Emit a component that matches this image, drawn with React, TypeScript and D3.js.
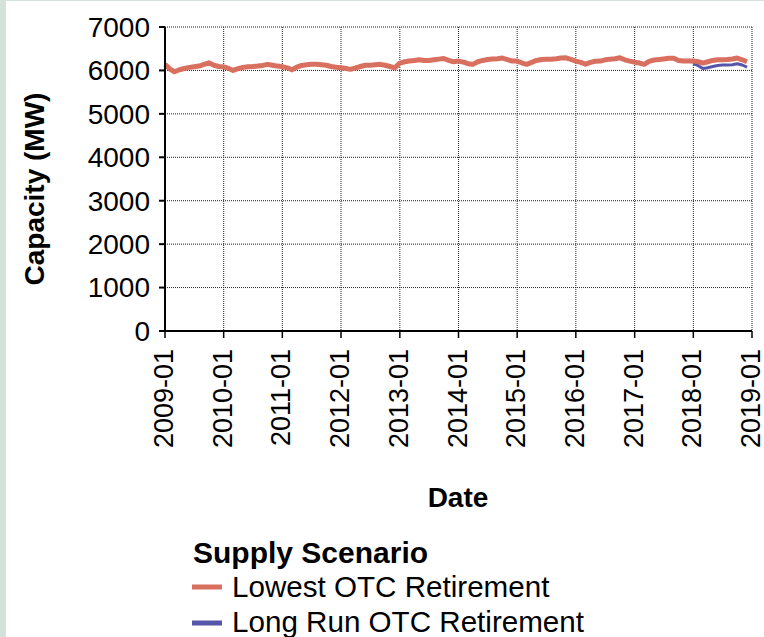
import React from "react";
import * as d3 from "d3";

const W = 764;
const H = 637;

const yTickValues = [0, 1000, 2000, 3000, 4000, 5000, 6000, 7000];
const xTickLabels = [
  "2009-01", "2010-01", "2011-01", "2012-01", "2013-01", "2014-01",
  "2015-01", "2016-01", "2017-01", "2018-01", "2019-01",
];

// Monthly capacity (MW), 2009-01 .. 2018-12
const lowestOTC = [
  6140, 6030, 5970, 6015, 6045, 6070, 6085, 6100, 6140, 6175, 6120, 6090,
  6085, 6045, 6000, 6040, 6070, 6085, 6090, 6100, 6115, 6140, 6120, 6100,
  6085, 6060, 6015, 6075, 6115, 6130, 6140, 6140, 6130, 6120, 6090, 6075,
  6060, 6045, 6025, 6060, 6090, 6120, 6120, 6130, 6140, 6120, 6090, 6060,
  6170, 6200, 6215, 6230, 6245, 6230, 6230, 6245, 6260, 6275, 6230, 6200,
  6215, 6190, 6155, 6140, 6200, 6230, 6250, 6265, 6270, 6285, 6250, 6215,
  6215, 6170, 6140, 6185, 6230, 6250, 6260, 6260, 6270, 6285, 6290, 6255,
  6215, 6185, 6145, 6185, 6210, 6215, 6245, 6260, 6270, 6290, 6245, 6215,
  6190, 6170, 6140, 6210, 6240, 6250, 6265, 6280, 6280, 6230, 6215, 6220,
  6215, 6200, 6170, 6200, 6230, 6245, 6245, 6250, 6265, 6285, 6245, 6200,
];
// Monthly capacity (MW), 2018-01 .. 2018-12
const longRunOTC = [
  6155, 6110, 6045, 6060, 6090, 6115, 6125, 6125, 6130, 6155, 6125, 6075,
];

const seriesNames = ["Lowest OTC Retirement", "Long Run OTC Retirement"];
const seriesColors = ["#d86f5f", "#5555aa"];

const FONT = "'Liberation Sans', Arial, Helvetica, sans-serif";

export default function App() {
  const left = 165, right = 752, top = 27, bottom = 331;

  const parse = d3.timeParse("%Y-%m");
  const xTickDates = xTickLabels.map((s) => parse(s) as Date);
  const x = d3
    .scaleTime()
    .domain([xTickDates[0], xTickDates[xTickDates.length - 1]])
    .range([left, right]);
  const y = d3.scaleLinear().domain([0, 7000]).range([bottom, top]);

  const months = d3.timeMonth.range(xTickDates[0], xTickDates[xTickDates.length - 1]);
  const redData = lowestOTC.map((v, i) => ({ date: months[i], v }));
  const blueStart = parse("2018-01") as Date;
  const blueMonths = d3.timeMonth.range(blueStart, xTickDates[xTickDates.length - 1]);
  const blueData = longRunOTC.map((v, i) => ({ date: blueMonths[i], v }));

  const line = d3
    .line<{ date: Date; v: number }>()
    .x((d) => x(d.date))
    .y((d) => y(d.v));

  return (
    <svg
      width={W}
      height={H}
      style={{ position: "absolute", left: 0, top: 0, display: "block" }}
      fontFamily={FONT}
    >
      <rect x={0} y={0} width={W} height={H} fill="#d3e3da" />
      <rect x={6} y={1} width={W - 6} height={H - 1} fill="#ffffff" />

      {/* horizontal gridlines */}
      {yTickValues.filter((v) => v > 0).map((v) => (
        <line
          key={"gy" + v}
          x1={left}
          x2={right}
          y1={y(v)}
          y2={y(v)}
          stroke="#222"
          strokeWidth={1}
          strokeDasharray="1,1"
        />
      ))}
      {/* vertical gridlines */}
      {xTickDates.slice(1).map((d, i) => (
        <line
          key={"gx" + i}
          x1={x(d)}
          x2={x(d)}
          y1={top}
          y2={bottom}
          stroke="#222"
          strokeWidth={1}
          strokeDasharray="1,1"
        />
      ))}

      {/* series */}
      <path d={line(blueData) || ""} fill="none" stroke={seriesColors[1]} strokeWidth={3} strokeLinejoin="round" />
      <path d={line(redData) || ""} fill="none" stroke={seriesColors[0]} strokeWidth={5} strokeLinejoin="round" />

      {/* axes */}
      <line x1={left} x2={left} y1={top} y2={bottom + 1} stroke="#000" strokeWidth={2} />
      <line x1={left - 1} x2={right} y1={bottom} y2={bottom} stroke="#000" strokeWidth={2} />

      {yTickValues.map((v) => (
        <g key={"ty" + v}>
          <line x1={left - 6} x2={left} y1={y(v)} y2={y(v)} stroke="#000" strokeWidth={2} />
          <text
            x={150}
            y={y(v)}
            dy="0.35em"
            textAnchor="end"
            fontSize={28}
            fill="#000"
          >
            {v}
          </text>
        </g>
      ))}

      {xTickDates.map((d, i) => (
        <g key={"tx" + i}>
          <line x1={x(d)} x2={x(d)} y1={bottom} y2={bottom + 7} stroke="#000" strokeWidth={1.5} />
          <text
            transform={`translate(${x(d)},${bottom + 18}) rotate(-90)`}
            dy="0.3em"
            textAnchor="end"
            fontSize={27}
            fill="#000"
          >
            {xTickLabels[i]}
          </text>
        </g>
      ))}

      {/* axis titles */}
      <text
        transform={`translate(34,189) rotate(-90)`}
        dy="0.35em"
        textAnchor="middle"
        fontSize={28}
        fontWeight="bold"
        fill="#000"
      >
        Capacity (MW)
      </text>
      <text x={458} y={507} textAnchor="middle" fontSize={28} fontWeight="bold" fill="#000">
        Date
      </text>

      {/* legend */}
      <text x={193} y={563} fontSize={30} fontWeight="bold" fill="#000">
        Supply Scenario
      </text>
      {seriesNames.map((name, i) => (
        <g key={name}>
          <line
            x1={192}
            x2={222}
            y1={587 + i * 36}
            y2={587 + i * 36}
            stroke={seriesColors[i]}
            strokeWidth={5}
          />
          <text x={232} y={597 + i * 35} fontSize={29.6} fill="#000">
            {name}
          </text>
        </g>
      ))}
    </svg>
  );
}
